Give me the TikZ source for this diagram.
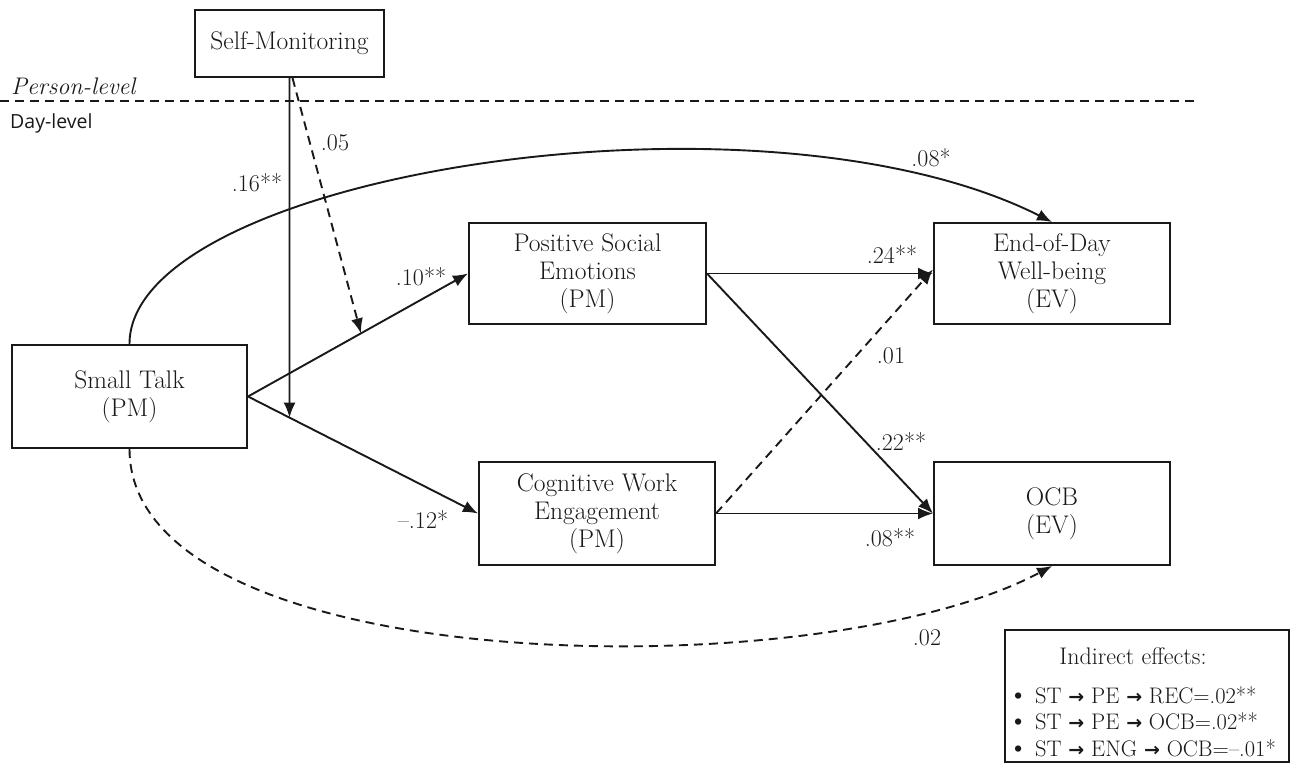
\documentclass[tikz,border=0pt]{standalone}
\usepackage{fontspec}
\newfontfamily\daysans{Open Sans}
\newfontfamily\arrowfont{DejaVu Sans}
\usetikzlibrary{arrows.meta,calc}
\tikzset{
  box/.style={draw=black!90, line width=2pt, align=center, inner sep=0pt,
    font=\fontsize{25.5}{28}\selectfont, text=black!90},
  conn/.style={line width=1.9pt, draw=black!90},
  arr/.style={conn, -{Latex[length=15pt,width=12pt]}},
  dsh/.style={dash pattern=on 9pt off 6pt},
  lbl/.style={font=\fontsize{24}{27}\selectfont, inner sep=0pt, text=black!90},
}
\newcommand{\ra}{{\arrowfont\bfseries\fontsize{19}{20}\selectfont →}}
\newcommand{\bul}{\smash{\fontsize{28}{20}\selectfont\textbullet}}
\begin{document}
\begin{tikzpicture}[x=1pt,y=-1pt]
\useasboundingbox (0,0) rectangle (1291,763);
% nodes
\node[box, minimum width=189pt, minimum height=67pt] (SM) at (289.5,43.5) {Self-Monitoring};
\node[box, minimum width=235pt, minimum height=103pt] (ST) at (129.5,396.5) {Small Talk\\(PM)};
\node[box, minimum width=237pt, minimum height=101pt] (PSE) at (587.5,273.5) {Positive Social\\Emotions\\(PM)};
\node[box, minimum width=236pt, minimum height=103pt] (CWE) at (597,513.5) {Cognitive Work\\Engagement\\(PM)};
\node[box, minimum width=236pt, minimum height=101pt] (EOD) at (1052,273.5) {End-of-Day\\Well-being\\(EV)};
\node[box, minimum width=236pt, minimum height=103pt] (OCB) at (1052,513.5) {OCB\\(EV)};
\node[box, line width=1.7pt, minimum width=284pt, minimum height=132pt] (IND) at (1147,696) {};
% level separator
\node[lbl, anchor=west, font=\fontsize{24}{27}\selectfont\itshape] (PL) at (11,86) {Person-level};
\node[lbl, anchor=west, font=\daysans\fontsize{19.5}{22}\selectfont] (DL) at (10,123) {Day-level};
\coordinate (sepL) at (0,101);
\coordinate (sepR) at (1197,101);
\draw[conn, dsh] (sepL) -- (sepR);
% main paths
\draw[arr] (ST.east) -- (PSE.west);
\draw[arr] (ST.east) -- (CWE.west);
\draw[arr] (PSE.east) -- (EOD.west);
\draw[arr] (PSE.east) -- (OCB.west);
\draw[arr] (CWE.east) -- (OCB.west);
\draw[arr, dsh] (CWE.east) -- ([yshift=4pt]EOD.west);
% moderation
\coordinate (below) at (SM.south |- ST.south);
\coordinate (m2) at (intersection of SM.south--below and ST.east--CWE.west);
\draw[arr] (SM.south) -- (m2);
\coordinate (smd) at ([xshift=3pt]SM.south);
\coordinate (m1) at ($(ST.east)!0.5135!(PSE.west)$);
\draw[arr, dsh] (smd) -- (m1);
% curves
\draw[arr] (ST.north) .. controls (129.5,175) and (760,75) .. (EOD.north);
\draw[arr, dsh] (ST.south) .. controls (129.5,680) and (820,690) .. (OCB.south);
% labels
\node[lbl] (l16) at (257,183) {.16**};
\node[lbl] (l05) at (335,143) {.05};
\node[lbl] (l10) at (421,277) {.10**};
\node[lbl] (l12) at (423,520) {--.12*};
\node[lbl] (l08a) at (931,158) {.08*};
\node[lbl] (l24) at (892,255) {.24**};
\node[lbl] (l01) at (891,356) {.01};
\node[lbl] (l22) at (901,442) {.22**};
\node[lbl] (l08b) at (890,538) {.08**};
\node[lbl] (l02) at (927,638) {.02};
% indirect effects
\node[lbl] (IE) at (1133,656) {Indirect effects:};
\node[lbl, anchor=north west, align=left, font=\fontsize{22.5}{26.5}\selectfont] (IL) at (1008,686)
  {\bul\ ST \ra\ PE \ra\ REC=.02**\\
   \bul\ ST \ra\ PE \ra\ OCB=.02**\\
   \bul\ ST \ra\ ENG \ra\ OCB=--.01*};
\end{tikzpicture}
\end{document}
